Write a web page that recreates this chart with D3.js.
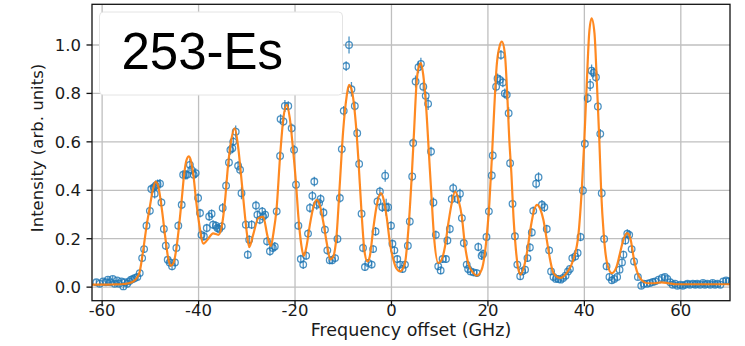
<!DOCTYPE html>
<html>
<head>
<meta charset="utf-8">
<script src="https://cdn.jsdelivr.net/npm/d3@7"></script>
<style>
  html, body { margin: 0; padding: 0; background: #fff; }
  svg { display: block; }
</style>
</head>
<body>
<svg id="chart" width="745" height="346"></svg>
<script>
// Axis ticks
const xTicks = [-60, -40, -20, 0, 20, 40, 60];
const yTicks = [0.0, 0.2, 0.4, 0.6, 0.8, 1.0];
const xTitle = "Frequency offset (GHz)";
const yTitle = "Intensity (arb. units)";
const isotopeLabel = "253-Es";

// Measured scan: frequency offset (GHz), intensity and its 1-sigma uncertainty
const offsetGHz = [
  -61.2,-60.5,-59.8,-59.2,-58.8,-58.3,-57.8,-57.4,-56.9,-56.5,
  -56.0,-55.6,-55.3,-54.8,-54.4,-54.0,-53.6,-53.2,-52.7,-52.2,
  -51.7,-51.3,-50.8,-50.1,-49.8,-49.3,-49.1,-48.9,-48.5,-48.0,
  -47.7,-47.2,-46.8,-46.4,-46.0,-45.5,-44.9,-44.6,-44.2,-43.5,
  -43.2,-42.7,-42.4,-41.8,-41.5,-41.0,-40.6,-40.1,-39.7,-39.4,
  -38.9,-38.3,-37.8,-37.3,-37.0,-36.4,-36.1,-35.7,-35.2,-35.0,
  -34.3,-33.7,-33.4,-33.0,-32.8,-32.3,-31.8,-31.4,-31.1,-30.2,
  -29.8,-29.5,-29.0,-28.1,-27.8,-27.3,-26.8,-26.6,-26.2,-25.8,
  -25.2,-24.6,-24.2,-23.8,-23.1,-23.0,-22.4,-22.1,-21.4,-20.7,
  -20.2,-19.8,-19.3,-18.8,-18.3,-17.7,-17.3,-16.9,-16.4,-16.0,
  -15.5,-15.0,-14.7,-14.1,-13.8,-13.3,-12.8,-12.3,-11.7,-11.2,
  -10.7,-10.3,-9.9,-9.4,-8.8,-8.3,-7.6,-7.1,-6.7,-6.2,
  -5.9,-5.5,-4.8,-4.1,-3.8,-3.3,-2.9,-2.4,-1.9,-1.3,
  -1.1,-0.7,-0.1,0.2,0.6,1.2,1.8,2.3,2.8,3.4,
  3.8,4.3,4.5,5.0,5.6,6.1,6.6,7.1,7.6,8.2,
  8.7,9.2,9.7,10.2,10.6,11.3,11.6,12.1,12.5,12.8,
  13.7,14.2,14.6,15.0,15.6,15.9,16.4,17.0,17.7,18.0,
  18.7,19.0,19.7,20.2,20.8,21.0,21.7,22.0,22.5,22.7,
  23.1,23.5,23.9,24.3,24.6,25.1,25.6,26.1,26.7,27.1,
  27.7,28.2,28.7,29.1,29.4,30.0,30.5,31.2,31.7,32.2,
  32.7,33.1,33.6,34.1,34.6,35.1,35.6,36.1,36.6,37.0,
  37.5,38.1,38.6,39.2,39.7,40.1,40.7,41.2,41.5,41.9,
  42.4,42.8,43.3,43.6,44.1,44.6,45.2,45.7,46.2,46.8,
  47.3,47.8,48.1,48.5,48.9,49.3,49.8,50.3,51.1,51.8,
  52.3,53.0,53.6,54.2,54.7,55.4,56.1,56.7,57.2,57.8,
  58.3,58.8,59.3,59.9,60.4,60.9,61.4,61.9,62.5,63.0,
  63.4,64.0,64.6,65.0,65.5,66.1,66.6,67.1,67.6,68.2,
  68.8,69.4,69.9
];
const intensity = [
  0.020,0.014,0.024,0.020,0.031,0.020,0.034,0.014,0.028,0.014,
  0.024,0.003,0.020,0.014,0.024,0.031,0.034,0.038,0.042,0.058,
  0.120,0.157,0.254,0.315,0.405,0.412,0.386,0.419,0.425,0.427,
  0.350,0.240,0.171,0.113,0.102,0.086,0.102,0.162,0.254,0.340,
  0.464,0.464,0.464,0.505,0.485,0.464,0.471,0.368,0.306,0.216,
  0.210,0.244,0.292,0.303,0.258,0.254,0.244,0.240,0.251,0.327,
  0.419,0.515,0.567,0.574,0.601,0.642,0.501,0.485,0.388,0.258,
  0.134,0.196,0.258,0.337,0.299,0.278,0.313,0.292,0.299,0.189,
  0.148,0.162,0.168,0.313,0.542,0.694,0.684,0.748,0.748,0.656,
  0.567,0.423,0.254,0.116,0.093,0.130,0.221,0.327,0.377,0.436,
  0.340,0.347,0.364,0.308,0.237,0.152,0.111,0.111,0.120,0.199,
  0.368,0.570,0.728,0.913,1.000,0.817,0.748,0.636,0.509,0.303,
  0.162,0.083,0.100,0.093,0.157,0.230,0.354,0.395,0.330,0.460,
  0.330,0.330,0.254,0.179,0.152,0.116,0.093,0.075,0.093,0.171,
  0.271,0.457,0.595,0.849,0.908,0.922,0.828,0.790,0.757,0.560,
  0.350,0.216,0.086,0.069,0.116,0.116,0.193,0.240,0.364,0.409,
  0.364,0.386,0.285,0.182,0.093,0.075,0.065,0.061,0.058,0.166,
  0.130,0.137,0.207,0.313,0.461,0.544,0.828,0.862,0.856,0.959,
  0.845,0.800,0.794,0.718,0.512,0.344,0.210,0.093,0.045,0.065,
  0.072,0.120,0.164,0.226,0.315,0.427,0.454,0.340,0.330,0.240,
  0.152,0.065,0.042,0.034,0.034,0.031,0.038,0.047,0.065,0.075,
  0.120,0.127,0.141,0.207,0.399,0.592,0.780,0.835,0.894,0.886,
  0.867,0.746,0.633,0.388,0.199,0.086,0.042,0.028,0.034,0.042,
  0.072,0.102,0.134,0.193,0.221,0.216,0.157,0.106,0.042,0.006,
  0.014,0.014,0.017,0.021,0.024,0.031,0.038,0.042,0.034,0.020,
  0.010,0.014,0.006,0.010,0.006,0.010,0.014,0.010,0.014,0.010,
  0.014,0.010,0.017,0.010,0.014,0.010,0.017,0.010,0.014,0.010,
  0.024,0.028,0.024
];
const sigma = [
  0.012,0.012,0.012,0.012,0.012,0.012,0.012,0.012,0.012,0.012,
  0.012,0.012,0.012,0.012,0.012,0.012,0.012,0.012,0.012,0.014,
  0.016,0.016,0.018,0.018,0.018,0.020,0.020,0.020,0.020,0.020,
  0.018,0.018,0.018,0.016,0.016,0.016,0.016,0.018,0.018,0.018,
  0.020,0.020,0.020,0.025,0.020,0.020,0.020,0.020,0.018,0.018,
  0.018,0.018,0.018,0.018,0.018,0.018,0.018,0.018,0.018,0.020,
  0.020,0.020,0.020,0.020,0.020,0.025,0.020,0.020,0.025,0.018,
  0.018,0.018,0.018,0.020,0.018,0.018,0.018,0.018,0.018,0.018,
  0.018,0.018,0.018,0.018,0.020,0.020,0.020,0.025,0.020,0.020,
  0.020,0.020,0.018,0.018,0.018,0.018,0.018,0.020,0.020,0.020,
  0.020,0.020,0.020,0.020,0.018,0.018,0.016,0.016,0.016,0.018,
  0.020,0.020,0.020,0.020,0.035,0.030,0.020,0.020,0.020,0.018,
  0.018,0.016,0.016,0.016,0.016,0.018,0.020,0.020,0.020,0.025,
  0.035,0.020,0.018,0.018,0.016,0.016,0.016,0.016,0.016,0.018,
  0.018,0.020,0.020,0.025,0.025,0.025,0.020,0.020,0.025,0.020,
  0.020,0.018,0.016,0.016,0.016,0.016,0.018,0.018,0.020,0.020,
  0.020,0.020,0.018,0.018,0.016,0.016,0.016,0.016,0.016,0.018,
  0.018,0.018,0.018,0.020,0.020,0.020,0.020,0.020,0.020,0.020,
  0.020,0.020,0.020,0.025,0.020,0.018,0.018,0.016,0.016,0.016,
  0.016,0.016,0.018,0.018,0.018,0.020,0.020,0.020,0.020,0.018,
  0.016,0.014,0.014,0.014,0.014,0.014,0.014,0.014,0.014,0.014,
  0.016,0.016,0.016,0.018,0.020,0.020,0.020,0.025,0.025,0.020,
  0.020,0.020,0.020,0.020,0.018,0.016,0.014,0.014,0.014,0.014,
  0.014,0.016,0.016,0.018,0.018,0.018,0.016,0.016,0.012,0.012,
  0.012,0.012,0.012,0.012,0.012,0.012,0.012,0.012,0.012,0.012,
  0.012,0.012,0.012,0.012,0.012,0.012,0.012,0.012,0.012,0.012,
  0.012,0.012,0.012,0.012,0.012,0.012,0.012,0.012,0.012,0.012,
  0.012,0.012,0.012
];

// Fitted hyperfine spectrum, sampled along the frequency axis
const fitGHz = [
  -62.1,-60,-58,-56,-54.5,-53.5,-52.8,-52.2,-51.5,-50.8,
  -50.1,-49.5,-48.9,-48.3,-47.6,-46.9,-46.3,-45.8,-45.2,-44.6,
  -44.0,-43.5,-43.0,-42.5,-42.0,-41.5,-41.0,-40.5,-39.9,-39.0,
  -38.0,-37.0,-35.9,-35.2,-34.5,-33.9,-33.2,-32.5,-31.8,-31.3,
  -30.7,-30.0,-29.5,-28.7,-27.6,-26.6,-25.7,-25.0,-24.5,-23.8,
  -23.1,-22.4,-21.7,-21.1,-20.4,-19.8,-19.3,-18.7,-18.2,-17.6,
  -16.9,-16.2,-15.5,-14.8,-14.1,-13.4,-12.7,-12.1,-11.4,-10.7,
  -10.0,-9.3,-8.8,-8.2,-7.4,-6.9,-6.2,-5.6,-5.0,-4.5,
  -3.8,-3.1,-2.2,-1.6,-1.0,-0.3,0.4,1.0,1.8,2.8,
  3.5,4.2,4.7,5.2,5.6,6.1,6.6,7.2,7.8,8.3,
  8.8,9.7,10.4,11.1,11.8,12.5,13.2,13.9,14.6,15.2,
  15.9,17.0,17.7,18.7,19.6,20.3,20.8,21.3,21.8,22.4,
  22.9,23.5,24.0,24.4,24.9,25.3,25.8,26.3,26.8,27.5,
  28.2,28.9,29.6,30.2,30.9,31.5,32.2,32.9,33.6,35.0,
  36.3,37.7,38.8,39.5,40.0,40.5,41.0,41.5,42.1,42.6,
  43.1,43.5,44.0,44.7,45.7,46.7,47.4,48.1,48.9,49.6,
  50.3,50.9,51.9,53.0,54.5,56.0,57.5,59.0,62.0,66.0,
  70.2
];
const fitIntensity = [
  0.010,0.010,0.011,0.012,0.016,0.024,0.038,0.065,0.150,0.250,
  0.333,0.400,0.436,0.410,0.320,0.205,0.120,0.088,0.100,0.160,
  0.260,0.360,0.465,0.525,0.540,0.515,0.450,0.355,0.265,0.180,
  0.200,0.222,0.216,0.250,0.360,0.500,0.610,0.656,0.580,0.485,
  0.360,0.225,0.165,0.215,0.285,0.290,0.210,0.170,0.220,0.330,
  0.540,0.700,0.753,0.700,0.567,0.430,0.290,0.175,0.128,0.170,
  0.260,0.330,0.360,0.333,0.265,0.180,0.115,0.125,0.210,0.430,
  0.650,0.787,0.835,0.810,0.677,0.540,0.306,0.150,0.106,0.127,
  0.237,0.333,0.388,0.360,0.290,0.180,0.113,0.078,0.065,0.100,
  0.237,0.457,0.650,0.842,0.905,0.925,0.875,0.740,0.540,0.374,
  0.215,0.100,0.113,0.168,0.265,0.347,0.395,0.360,0.290,0.180,
  0.100,0.058,0.047,0.072,0.180,0.347,0.526,0.732,0.910,0.993,
  1.014,0.966,0.800,0.622,0.457,0.290,0.155,0.075,0.052,0.086,
  0.155,0.250,0.320,0.340,0.320,0.278,0.196,0.113,0.058,0.038,
  0.058,0.113,0.223,0.416,0.608,0.842,1.048,1.110,1.048,0.842,
  0.608,0.388,0.223,0.100,0.058,0.086,0.141,0.196,0.223,0.196,
  0.113,0.065,0.028,0.016,0.016,0.020,0.016,0.012,0.012,0.012,
  0.012
];

const svg = d3.select("#chart");
const frame = { left: 92, right: 730, top: 4.3, bottom: 300.7 };
const textColor = "#1a1a1a";
const tickFont = "DejaVu Sans, Verdana, sans-serif";

const x = d3.scaleLinear().domain([-62.1, 70.2]).range([frame.left, frame.right]);
const y = d3.scaleLinear().domain([-0.056, 1.168]).range([frame.bottom, frame.top]);

svg.append("defs").append("clipPath").attr("id", "plot-clip")
  .append("rect")
  .attr("x", frame.left).attr("y", frame.top)
  .attr("width", frame.right - frame.left).attr("height", frame.bottom - frame.top);

// Grid
const grid = svg.append("g").attr("stroke", "#bfbfbf").attr("stroke-width", 1.3);
grid.selectAll("line.vx").data(xTicks).join("line").attr("class", "vx")
  .attr("x1", d => x(d)).attr("x2", d => x(d))
  .attr("y1", frame.top).attr("y2", frame.bottom);
grid.selectAll("line.hy").data(yTicks).join("line").attr("class", "hy")
  .attr("x1", frame.left).attr("x2", frame.right)
  .attr("y1", d => y(d)).attr("y2", d => y(d));

// Data points with vertical error bars
const scan = offsetGHz.map((f, i) => ({ f, v: intensity[i], s: sigma[i] }));
const pts = svg.append("g").attr("clip-path", "url(#plot-clip)")
  .attr("stroke", "#1f77b4").attr("stroke-opacity", 0.8).attr("fill", "none");
pts.selectAll("line").data(scan).join("line")
  .attr("x1", d => x(d.f)).attr("x2", d => x(d.f))
  .attr("y1", d => y(d.v - d.s)).attr("y2", d => y(d.v + d.s))
  .attr("stroke-width", 1.3);
pts.selectAll("circle").data(scan).join("circle")
  .attr("cx", d => x(d.f)).attr("cy", d => y(d.v))
  .attr("r", 3.3).attr("stroke-width", 1.3);

// Fitted curve
const fit = fitGHz.map((f, i) => [f, fitIntensity[i]]);
svg.append("path")
  .attr("clip-path", "url(#plot-clip)")
  .datum(fit)
  .attr("fill", "none")
  .attr("stroke", "#ff7f0e")
  .attr("stroke-opacity", 0.92)
  .attr("stroke-width", 2.2)
  .attr("stroke-linejoin", "round")
  .attr("d", d3.line().x(d => x(d[0])).y(d => y(d[1])).curve(d3.curveMonotoneX));

// Label box in the upper-left corner
const box = svg.append("g");
box.append("rect")
  .attr("x", 99.5).attr("y", 12).attr("width", 243).attr("height", 83)
  .attr("rx", 4).attr("fill", "#fff").attr("stroke", "#e4e4e4").attr("stroke-width", 1);
box.append("text")
  .attr("x", 121.5).attr("y", 68.5)
  .attr("font-family", "Liberation Sans, Arial, sans-serif")
  .attr("font-size", 51).attr("fill", "#000")
  .text(isotopeLabel);

// Frame
svg.append("rect")
  .attr("x", frame.left).attr("y", frame.top)
  .attr("width", frame.right - frame.left).attr("height", frame.bottom - frame.top)
  .attr("fill", "none").attr("stroke", "#111").attr("stroke-width", 1.3);

// X axis ticks and labels
const xAxis = svg.append("g");
xAxis.selectAll("line").data(xTicks).join("line")
  .attr("x1", d => x(d)).attr("x2", d => x(d))
  .attr("y1", frame.bottom).attr("y2", frame.bottom + 5.5)
  .attr("stroke", "#111").attr("stroke-width", 1.3);
xAxis.selectAll("text").data(xTicks).join("text")
  .attr("x", d => x(d)).attr("y", 315.5)
  .attr("text-anchor", "middle")
  .attr("font-family", tickFont).attr("font-size", 16.5).attr("fill", textColor)
  .text(d => String(d));

// Y axis ticks and labels
const yAxis = svg.append("g");
yAxis.selectAll("line").data(yTicks).join("line")
  .attr("x1", frame.left - 5.5).attr("x2", frame.left)
  .attr("y1", d => y(d)).attr("y2", d => y(d))
  .attr("stroke", "#111").attr("stroke-width", 1.3);
yAxis.selectAll("text").data(yTicks).join("text")
  .attr("x", 81).attr("y", d => y(d)).attr("dy", "0.36em")
  .attr("text-anchor", "end")
  .attr("font-family", tickFont).attr("font-size", 16.5).attr("fill", textColor)
  .text(d => d3.format(".1f")(d));

// Axis titles
svg.append("text")
  .attr("x", (frame.left + frame.right) / 2).attr("y", 336)
  .attr("text-anchor", "middle")
  .attr("font-family", tickFont).attr("font-size", 17.5).attr("fill", textColor)
  .text(xTitle);
svg.append("text")
  .attr("transform", "translate(43,148) rotate(-90)")
  .attr("text-anchor", "middle")
  .attr("font-family", tickFont).attr("font-size", 16.5).attr("fill", textColor)
  .text(yTitle);
</script>
</body>
</html>
